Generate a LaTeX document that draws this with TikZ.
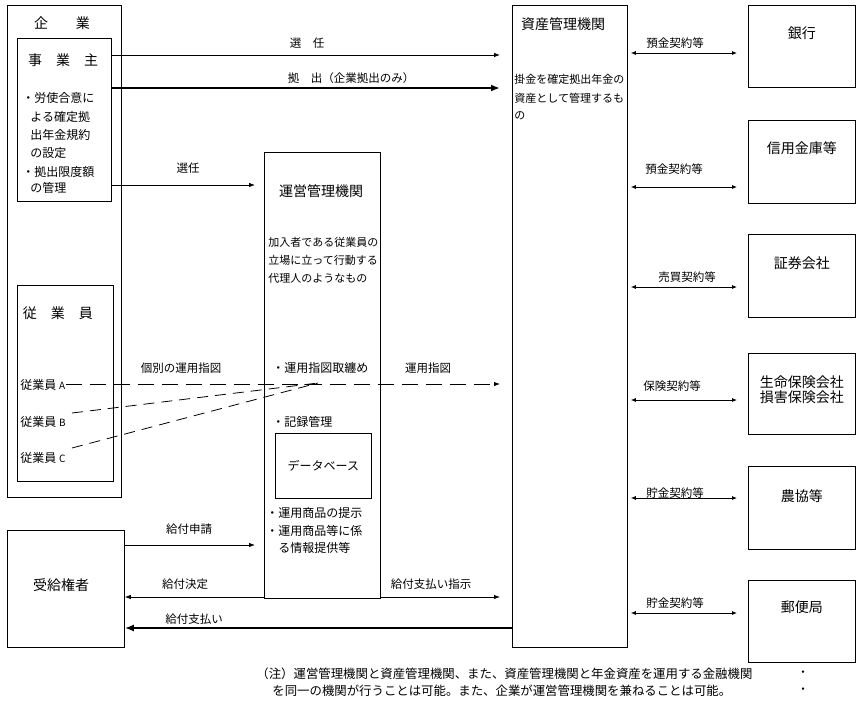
\documentclass[tikz,border=0pt]{standalone}
\usepackage{fontspec}
\setmainfont{Noto Sans CJK JP}
\usetikzlibrary{arrows.meta}
\begin{document}
\begin{tikzpicture}[x=1pt,y=-1pt,line width=0.8pt,
  box/.style={draw,line width=0.8pt,inner sep=0pt,anchor=north west},
  t/.style={inner sep=0pt,font=\fontsize{12}{14}\selectfont},
  tl/.style={t,anchor=west},
  lab/.style={inner sep=0pt,font=\fontsize{11.5}{13}\selectfont},
  sml/.style={inner sep=0pt,anchor=west,font=\fontsize{11}{13}\selectfont},
  ttl/.style={inner sep=0pt,font=\fontsize{14}{16}\selectfont},
  arr/.style={-{Latex[length=6pt,width=4.5pt]},line width=0.8pt},
  darr/.style={{Latex[length=5pt,width=4pt]}-{Latex[length=5pt,width=4pt]},line width=0.8pt},
  tharr/.style={-{Latex[length=9pt,width=7pt]},line width=2.4pt},
  dsh/.style={dash pattern=on 16pt off 8pt,line width=0.8pt},
  dshs/.style={dash pattern=on 11pt off 7pt,line width=0.8pt}]
\useasboundingbox (0,0) rectangle (862,705);

% boxes
\node[box,minimum width=114pt,minimum height=492pt] (kigyo) at (7,5) {};
\node[box,minimum width=94pt,minimum height=163pt] (jigyo) at (17,38) {};
\node[box,minimum width=96pt,minimum height=196pt] (jugyo) at (17,285) {};
\node[box,minimum width=116pt,minimum height=446pt] (unei) at (264,152) {};
\node[box,minimum width=96pt,minimum height=65pt] (db) at (275,433) {};
\node[box,minimum width=115pt,minimum height=642pt] (shisan) at (512,5) {};
\node[box,minimum width=117pt,minimum height=117pt] (jukyu) at (7,530) {};
\node[box,minimum width=107pt,minimum height=82pt] (bank) at (748,5) {};
\node[box,minimum width=107pt,minimum height=83pt] (shinkin) at (748,120) {};
\node[box,minimum width=107pt,minimum height=83pt] (shoken) at (748,234) {};
\node[box,minimum width=107pt,minimum height=81pt] (hoken) at (748,353) {};
\node[box,minimum width=107pt,minimum height=83pt] (nokyo) at (748,466) {};
\node[box,minimum width=107pt,minimum height=82pt] (yubin) at (748,580) {};

% texts in left column
\node[ttl] (tkigyo) at (62,23) {企　　業};
\node[ttl] (tjigyo) at (63,60) {事　業　主};
\node[tl] (j1) at (22,98) {・労使合意に};
\node[tl] (j2) at (30,117) {よる確定拠};
\node[tl] (j3) at (30,135) {出年金規約};
\node[tl] (j4) at (30,153) {の設定};
\node[tl] (j5) at (22,172) {・拠出限度額};
\node[tl] (j6) at (30,188) {の管理};
\node[ttl] (tjugyo) at (58,313) {従　業　員};
\node[tl] (empA) at (20,385) {従業員 {\fontsize{10}{10}\selectfont A}};
\node[tl] (empB) at (20,422) {従業員 {\fontsize{10}{10}\selectfont B}};
\node[tl] (empC) at (20,458) {従業員 {\fontsize{10}{10}\selectfont C}};

% texts in 運営管理機関
\node[ttl] (tunei) at (321,191) {運営管理機関};
\node[sml] (u1) at (268,242) {加入者である従業員の};
\node[sml] (u2) at (268,260) {立場に立って行動する};
\node[sml] (u3) at (268,278) {代理人のようなもの};
\node[tl] (u4) at (272,368) {・運用指図取纏め};
\node[tl] (u5) at (272,422) {・記録管理};
\node[t] (tdb) at (db.center) {データベース};
\node[tl] (u6) at (266,513) {・運用商品の提示};
\node[tl] (u7) at (266,531) {・運用商品等に係};
\node[tl] (u8) at (278,548) {る情報提供等};

% texts in 資産管理機関
\node[ttl] (tshisan) at (563,24) {資産管理機関};
\node[sml] (s1) at (514,79) {掛金を確定拠出年金の};
\node[sml] (s2) at (514,98) {資産として管理するも};
\node[sml] (s3) at (514,116) {の};

% right boxes
\node[ttl] at (bank.center |- 0,33) {銀行};
\node[ttl] at (shinkin.center |- 0,148) {信用金庫等};
\node[ttl] at (shoken.center |- 0,263) {証券会社};
\node[ttl,align=center] at (hoken.center |- 0,390) {生命保険会社\\[-1pt]損害保険会社};
\node[ttl] at (nokyo.center |- 0,496) {農協等};
\node[ttl] at (yubin.center |- 0,607) {郵便局};
\node[ttl] (tjukyu) at (61,585) {受給権者};

% top arrows
\draw[arr,shorten >=12pt] (jigyo.east |- 0,55) -- (shisan.west |- 0,55);
\node[lab] (l1) at (307,43) {選　任};
\draw[tharr,shorten >=12pt] (jigyo.east |- 0,88) -- (shisan.west |- 0,88);
\node[lab] (l2) at (351,78) {拠　出（企業拠出のみ）};
\draw[arr,shorten >=9pt] (jigyo.east |- 0,185) -- (unei.west |- 0,185);
\node[lab] (l3) at (188,168) {選任};

% dashed instructions
\coordinate (conv) at (318,383);
\coordinate (bst) at (72,413);
\coordinate (cst) at (72,448);
\draw[dsh,arr,shorten >=12pt,dash pattern=on 16pt off 8pt] (empA.east |- 0,384) -- (shisan.west |- 0,384);
\draw[dshs] (bst) -- (conv);
\draw[dshs] (cst) -- (conv);
\node[lab] (l4) at (181,368) {個別の運用指図};
\node[lab] (l5) at (428,368) {運用指図};

% bottom arrows
\draw[arr,shorten >=9pt] (jukyu.east |- 0,545) -- (unei.west |- 0,545);
\node[lab] (l6) at (189,529) {給付申請};
\draw[arr] (unei.west |- 0,597) -- (jukyu.east |- 0,597);
\node[lab] (l7) at (185,584) {給付決定};
\draw[arr,shorten >=12pt] (unei.east |- 0,597) -- (shisan.west |- 0,597);
\node[lab] (l8) at (431,584) {給付支払い指示};
\draw[tharr] (shisan.west |- 0,628) -- (jukyu.east |- 0,628);
\node[lab] (l9) at (194,619) {給付支払い};

% right double arrows
\draw[darr,shorten <=3pt,shorten >=11pt] (shisan.east |- 0,53) -- (bank.west |- 0,53);
\node[lab] at (675,43) {預金契約等};
\draw[darr,shorten <=3pt,shorten >=11pt] (shisan.east |- 0,187) -- (shinkin.west |- 0,187);
\node[lab] at (674,169) {預金契約等};
\draw[darr,shorten <=3pt,shorten >=11pt] (shisan.east |- 0,287) -- (shoken.west |- 0,287);
\node[lab] at (687,277) {売買契約等};
\draw[darr,shorten <=3pt,shorten >=11pt] (shisan.east |- 0,400) -- (hoken.west |- 0,400);
\node[lab] at (672,386) {保険契約等};
\draw[darr,shorten <=3pt,shorten >=11pt] (shisan.east |- 0,498) -- (nokyo.west |- 0,498);
\node[lab] at (675,493) {貯金契約等};
\draw[darr,shorten <=3pt,shorten >=11pt] (shisan.east |- 0,613) -- (yubin.west |- 0,613);
\node[lab] at (675,603) {貯金契約等};

% note
\node[inner sep=0pt,anchor=west,font=\fontsize{12.4}{14}\selectfont] (n1) at (256,674) {（注）運営管理機関と資産管理機関、また、資産管理機関と年金資産を運用する金融機関};
\node[inner sep=0pt,anchor=west,font=\fontsize{12.4}{14}\selectfont] (n2) at (272,691) {を同一の機関が行うことは可能。また、企業が運営管理機関を兼ねることは可能。};
\node[lab] (d1) at (803,674) {・};
\node[lab] (d2) at (803,691) {・};
\end{tikzpicture}
\end{document}
